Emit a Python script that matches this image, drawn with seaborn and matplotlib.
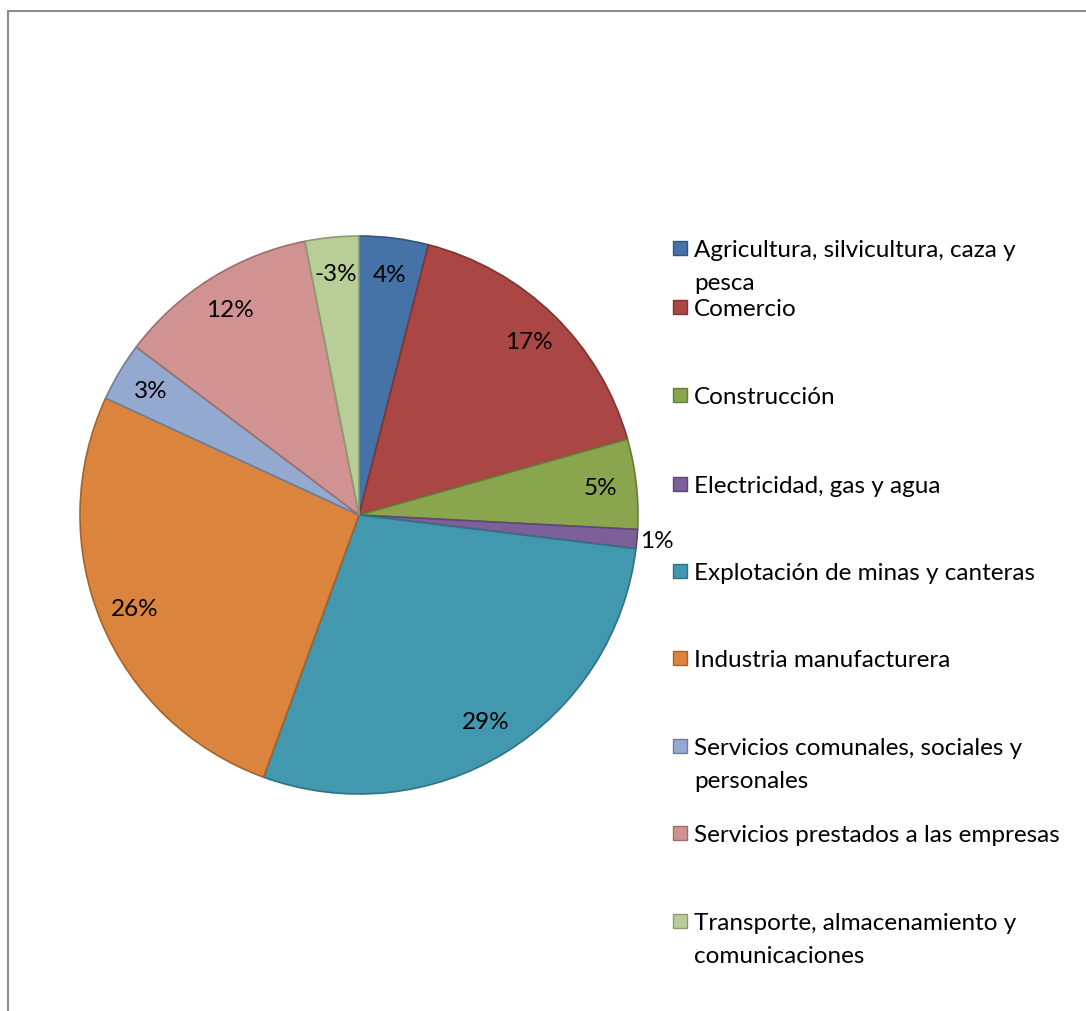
import matplotlib
matplotlib.use("Agg")
import matplotlib.pyplot as plt
import seaborn as sns
import numpy as np
from matplotlib.lines import Line2D
from matplotlib.patches import Rectangle
import matplotlib.colors as mcolors

sns.set_theme(style="white")
plt.rcParams['font.family'] = ['Lato', 'DejaVu Sans']

# ---- data ----
categories = [
    "Agricultura, silvicultura, caza y\npesca",
    "Comercio",
    "Construcción",
    "Electricidad, gas y agua",
    "Explotación de minas y canteras",
    "Industria manufacturera",
    "Servicios comunales, sociales y\npersonales",
    "Servicios prestados a las empresas",
    "Transporte, almacenamiento y\ncomunicaciones",
]
values = [4.0, 16.6, 5.2, 1.1, 28.6, 26.3, 3.4, 11.6, -3.1]
colors = ["#4572A7", "#AA4643", "#89A54E", "#7D5F9A", "#4198AF",
          "#DB843D", "#93A9CF", "#D19392", "#B9CD96"]

W, H = 1086, 1012
fig = plt.figure(figsize=(W / 100, H / 100), dpi=100)
fig.patch.set_facecolor("white")

# pie axes: center (359,516), radius 279 px
cx, cy, r = 359, 516, 279
ax = fig.add_axes([(cx - r) / W, (H - cy - r) / H, 2 * r / W, 2 * r / H])
sizes = [abs(v) for v in values]
edges = [tuple(np.array(mcolors.to_rgb(c)) * 0.75) for c in colors]
wedges, _ = ax.pie(sizes, colors=colors, startangle=90, counterclock=False,
                   radius=1.0, wedgeprops=dict(linewidth=1.2))
for w, e in zip(wedges, edges):
    w.set_edgecolor(e)
ax.set_xlim(-1, 1)
ax.set_ylim(-1, 1)
ax.set_aspect("equal")
ax.axis("off")

fs = 17.5
for w, v in zip(wedges, values):
    mid = np.deg2rad((w.theta1 + w.theta2) / 2)
    dist = 1.07 if abs(v) < 2 else 0.87
    ax.text(dist * np.cos(mid), dist * np.sin(mid), f"{round(v):.0f}%",
            ha="center", va="center", fontsize=fs, color="black")

# legend drawn manually
first_y = [249, 308, 396, 485, 572, 659, 747, 834, 922]
for lab, col, e, y in zip(categories, colors, edges, first_y):
    sq = 14
    fig.add_artist(Rectangle(((673) / W, (H - y - sq / 2) / H), sq / W, sq / H,
                             facecolor=col, edgecolor=e, linewidth=1,
                             transform=fig.transFigure))
    for i, line in enumerate(lab.split("\n")):
        yy = y + 33 * i + 8
        fig.text(694 / W, (H - yy) / H, line, fontsize=fs, ha="left",
                 va="baseline", color="black")

# frame (top & left only, image cropped)
fig.add_artist(Line2D([8 / W, 1], [1 - 12 / H, 1 - 12 / H], color="#8C8C8C",
                      linewidth=1.5, transform=fig.transFigure))
fig.add_artist(Line2D([8 / W, 8 / W], [0, 1 - 12 / H], color="#8C8C8C",
                      linewidth=1.5, transform=fig.transFigure))

fig.savefig("out.png", dpi=100, facecolor="white")
